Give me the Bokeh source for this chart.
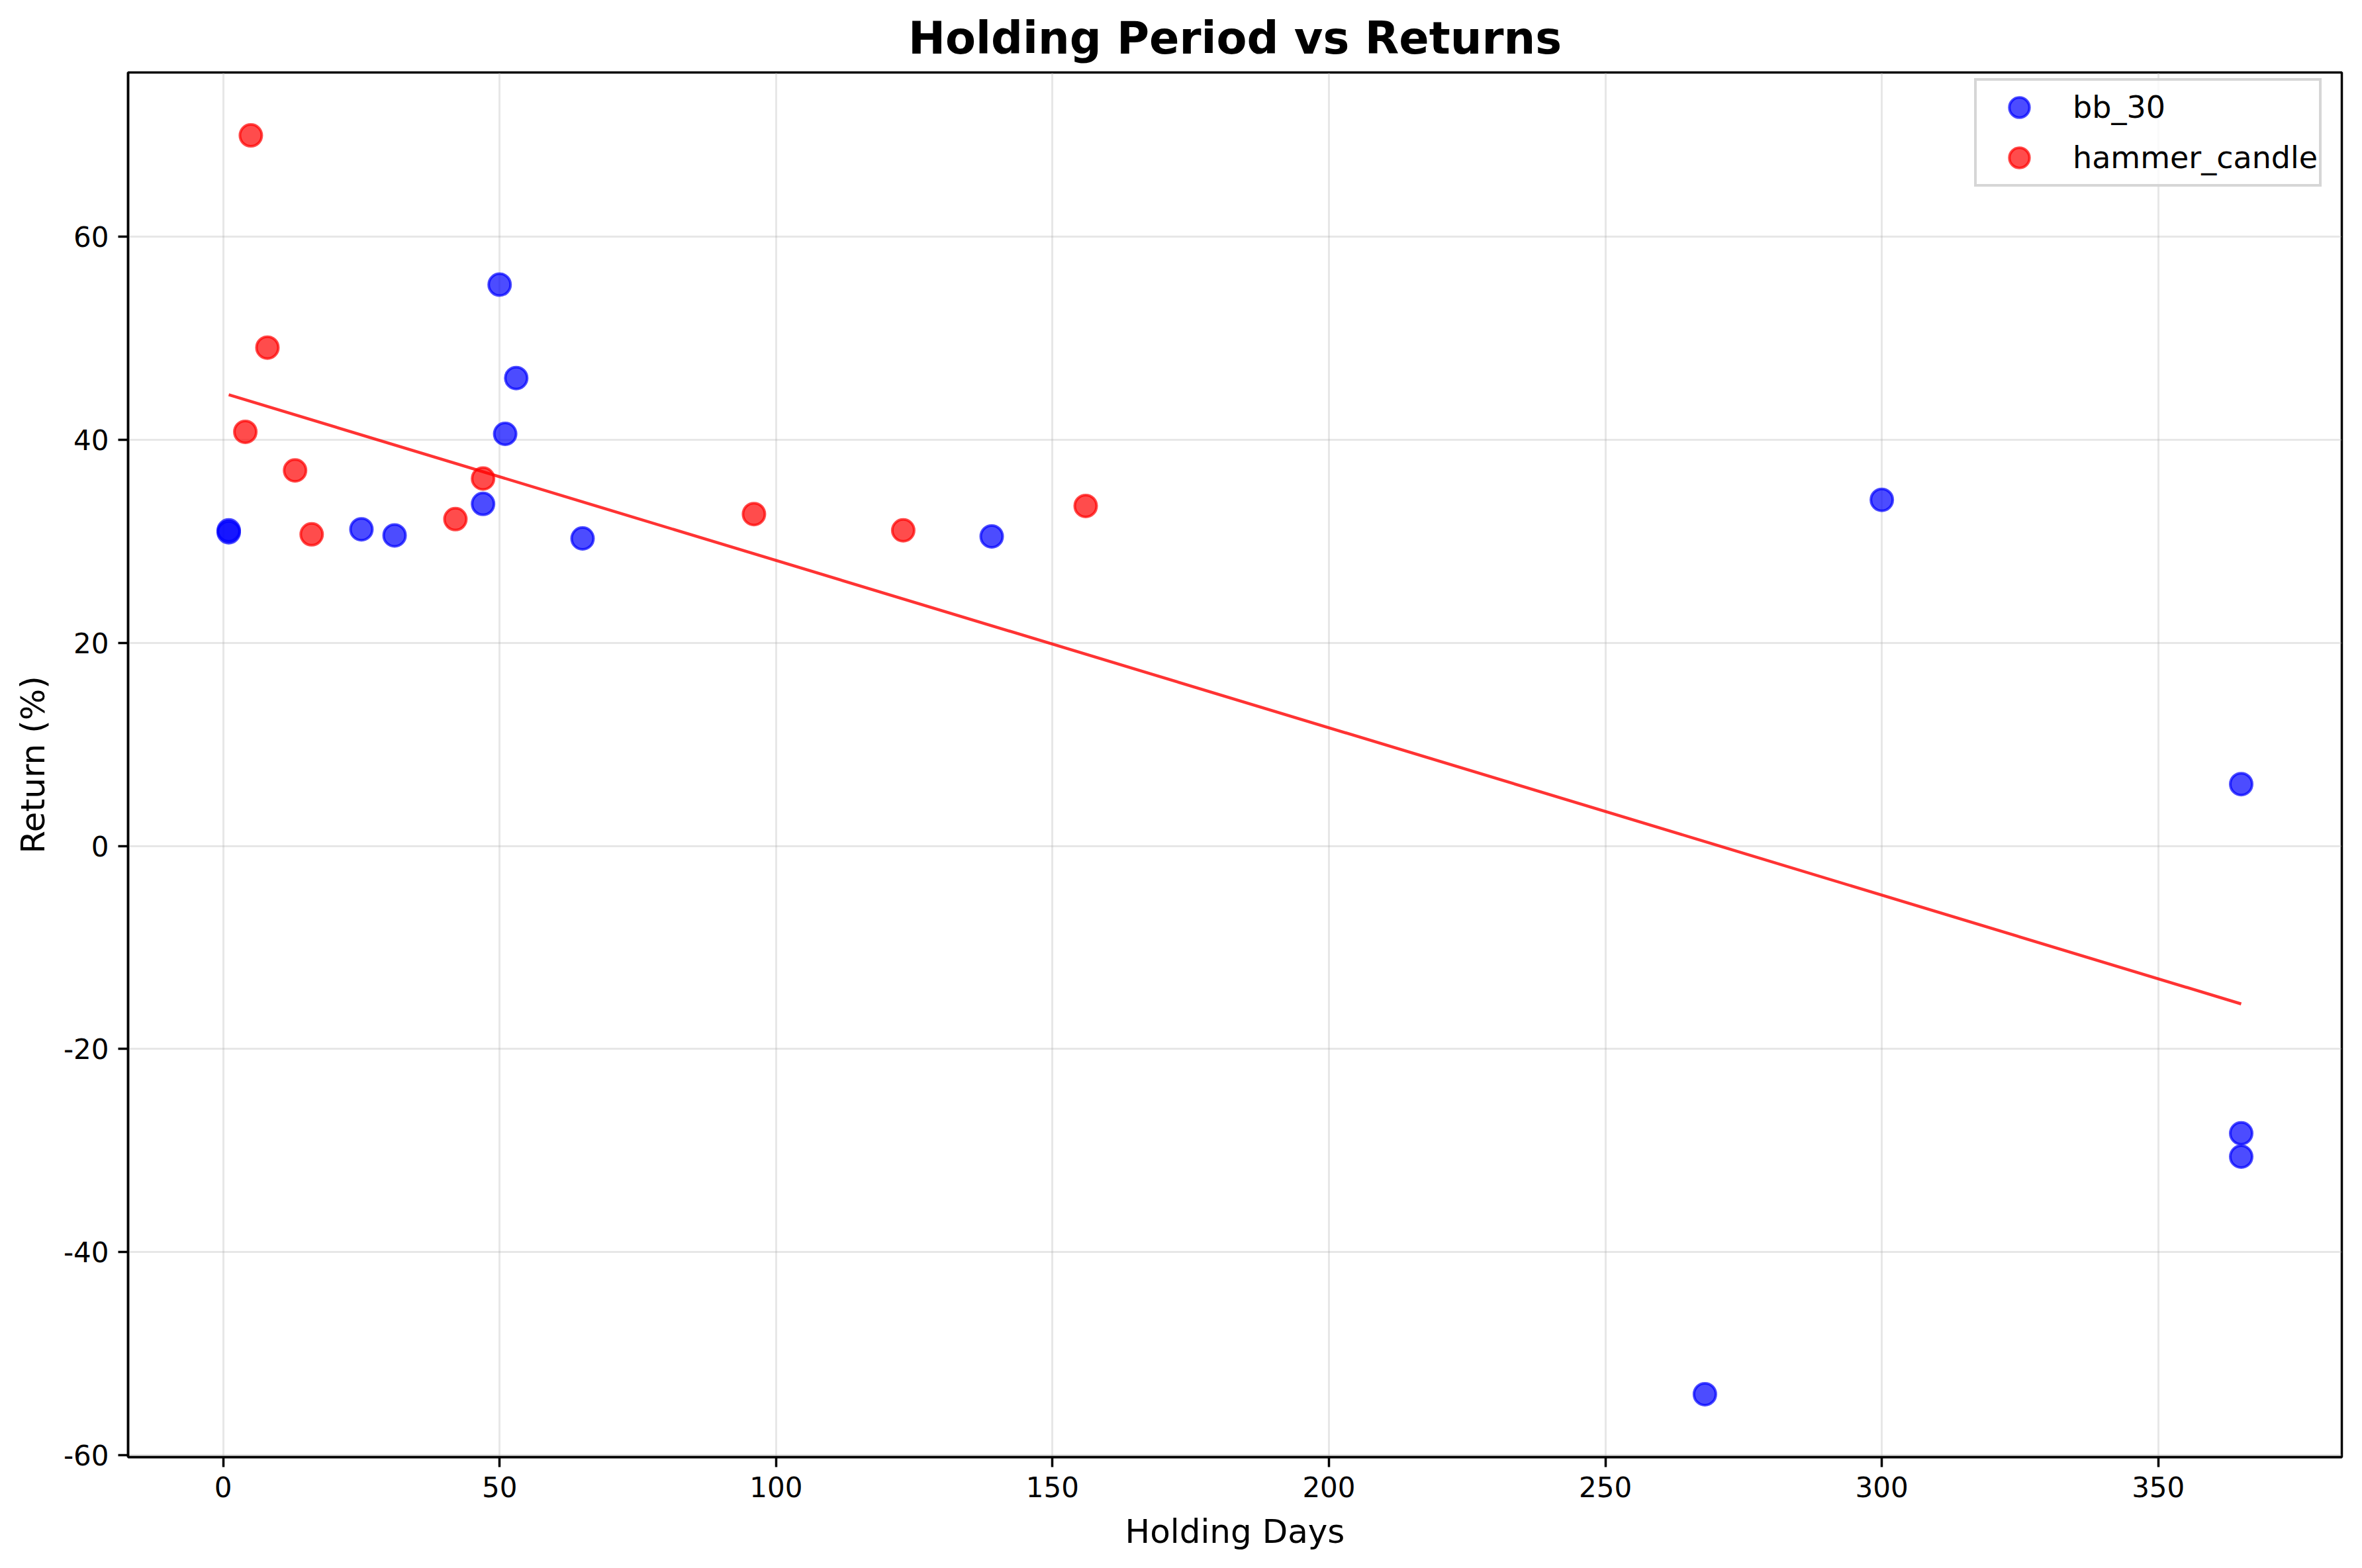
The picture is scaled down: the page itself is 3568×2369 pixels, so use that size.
import numpy as np
from bokeh.plotting import figure
from bokeh.models import Range1d, FixedTicker, Legend, LegendItem
from bokeh.embed import file_html
from bokeh.resources import INLINE

# ---- data ----
bb30_days = [1, 1, 25, 31, 47, 50, 51, 53, 65, 139, 268, 300, 365, 365, 365]
bb30_returns = [31.1, 30.9, 31.2, 30.6, 33.7, 55.3, 40.6, 46.1, 30.3, 30.5,
                -54.0, 34.1, 6.1, -28.3, -30.6]
hammer_days = [4, 5, 8, 13, 16, 42, 47, 96, 123, 156]
hammer_returns = [40.8, 70.0, 49.1, 37.0, 30.7, 32.2, 36.2, 32.7, 31.1, 33.5]

x_ticks = [0, 50, 100, 150, 200, 250, 300, 350]
y_ticks = [-60, -40, -20, 0, 20, 40, 60]
y_tick_labels = ["-60", "-40", "-20", "0", "20", "40", "60"]

# trend line (least squares over all trades)
all_x = np.array(bb30_days + hammer_days, dtype=float)
all_y = np.array(bb30_returns + hammer_returns, dtype=float)
coef = np.polyfit(all_x, all_y, 1)
trend_x = [all_x.min(), all_x.max()]
trend_y = list(np.polyval(coef, trend_x))

FONT = "DejaVu Sans"
W, H = 3552, 2353
FL, FR, FT, FB = 193, 3537, 109, 2201  # frame edges in figure pixels

p = figure(width=W, height=H, output_backend="svg", toolbar_location=None,
           x_range=Range1d(-17.2, 383.2), y_range=Range1d(-60.2, 76.2),
           min_border_left=FL, min_border_right=W - FR, min_border_top=FT,
           min_border_bottom=H - FB)

p.title.text = "Holding Period vs Returns"
p.title.text_font = FONT
p.title.text_font_size = "67px"
p.title.text_font_style = "bold"
p.title.align = "center"
p.title.text_color = "black"
p.title.standoff = 25

p.outline_line_color = "black"
p.outline_line_width = 3.5

for ax in (p.xaxis[0], p.yaxis[0]):
    ax.axis_line_color = "black"
    ax.axis_line_width = 3.5
    ax.major_tick_line_width = 3.5
    ax.major_tick_line_color = "black"
    ax.major_tick_out = 15
    ax.major_tick_in = 0
    ax.minor_tick_out = 0
    ax.minor_tick_in = 0
    ax.major_label_text_font = FONT
    ax.major_label_text_font_size = "42px"
    ax.major_label_text_color = "black"
    ax.major_label_standoff = 14
    ax.axis_label_text_font = FONT
    ax.axis_label_text_font_size = "50px"
    ax.axis_label_text_font_style = "normal"
    ax.axis_label_text_color = "black"
    ax.axis_label_standoff = 14

p.xaxis[0].axis_label_standoff = 20
p.xaxis[0].ticker = FixedTicker(ticks=x_ticks)
p.yaxis[0].ticker = FixedTicker(ticks=y_ticks)
p.yaxis[0].major_label_overrides = {t: s for t, s in zip(y_ticks, y_tick_labels)}
p.xaxis[0].axis_label = "Holding Days"
p.yaxis[0].axis_label = "Return (%)"

p.grid.grid_line_color = "#b0b0b0"
p.grid.grid_line_alpha = 0.3
p.grid.grid_line_width = 3

r1 = p.scatter(bb30_days, bb30_returns, size=33, fill_color="blue", line_color="blue",
               fill_alpha=0.7, line_alpha=0.7, line_width=4)
r2 = p.scatter(hammer_days, hammer_returns, size=33, fill_color="red", line_color="red",
               fill_alpha=0.7, line_alpha=0.7, line_width=4)
p.line(trend_x, trend_y, line_color="red", line_alpha=0.8, line_width=4.5)

legend = Legend(items=[LegendItem(label="bb_30", renderers=[r1]),
                       LegendItem(label="hammer_candle", renderers=[r2])],
                location=(2982 - FL, FB - 282))
legend.label_text_font = FONT
legend.label_text_font_size = "46px"
legend.label_text_color = "black"
legend.glyph_width = 124
legend.glyph_height = 76
legend.label_height = 76
legend.spacing = 0
legend.padding = 2
legend.label_standoff = 19
legend.border_line_color = "#cccccc"
legend.border_line_alpha = 0.8
legend.border_line_width = 4
legend.background_fill_alpha = 0.8
p.add_layout(legend)

open("out.html", "w").write(file_html(p, INLINE))
